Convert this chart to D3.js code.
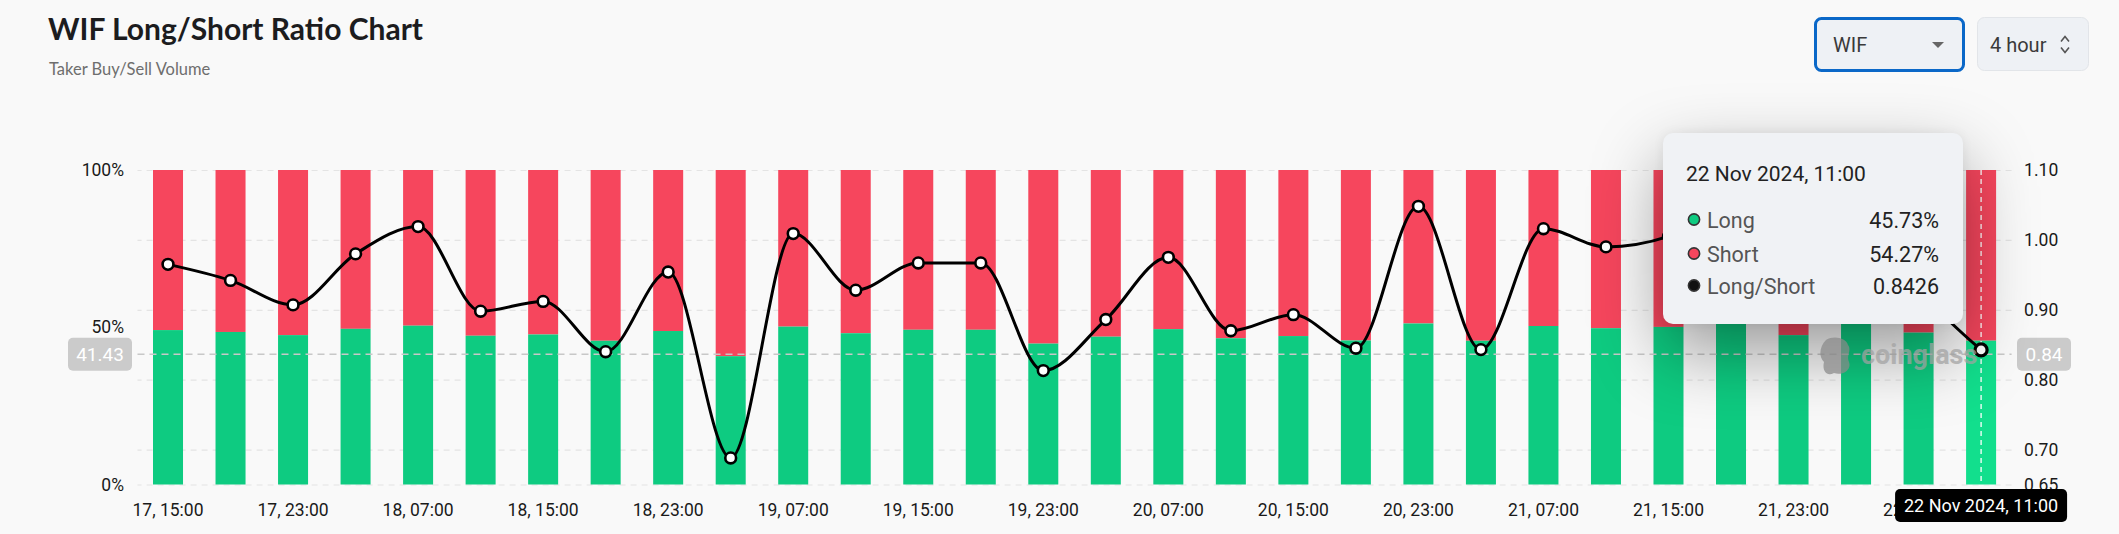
<!DOCTYPE html>
<html>
<head>
<meta charset="utf-8">
<script src="https://cdn.jsdelivr.net/npm/d3@7"></script>
<style>
html,body{margin:0;padding:0;background:#f9f9f9;width:2119px;height:534px;overflow:hidden;}
#wrap{position:relative;width:2119px;height:534px;}
svg{position:absolute;left:0;top:0;}
#tipbox{position:absolute;left:1663px;top:133px;width:300px;height:191px;background:#f0f2f5;border-radius:10px;
  box-shadow:0 28px 70px rgba(0,0,0,0.38), 0 0 12px rgba(0,0,0,0.06);}
</style>
</head>
<body>
<div id="wrap">
  <svg id="chart" width="2119" height="534"></svg>
  <div id="tipbox"></div>
  <svg id="overlay" width="2119" height="534"></svg>
</div>
<script>
// ---------------- data ----------------
const categories = ["17, 15:00","17, 19:00","17, 23:00","18, 03:00","18, 07:00","18, 11:00","18, 15:00","18, 19:00","18, 23:00","19, 03:00",
  "19, 07:00","19, 11:00","19, 15:00","19, 19:00","19, 23:00","20, 03:00","20, 07:00","20, 11:00","20, 15:00","20, 19:00",
  "20, 23:00","21, 03:00","21, 07:00","21, 11:00","21, 15:00","21, 19:00","21, 23:00","22, 03:00","22, 07:00","22, 11:00"];
const longPct = [49.1, 48.5, 47.5, 49.5, 50.5, 47.3, 47.7, 45.7, 48.8, 40.8,
  50.2, 48.1, 49.2, 49.2, 44.8, 47.0, 49.4, 46.5, 47.2, 45.8,
  51.2, 45.7, 50.4, 49.7, 50.1, 51.6, 47.5, 51.9, 48.3, 45.73];
const ratio = [0.965, 0.942, 0.907, 0.980, 1.019, 0.898, 0.912, 0.840, 0.954, 0.688,
  1.009, 0.928, 0.967, 0.967, 0.813, 0.886, 0.975, 0.870, 0.893, 0.845,
  1.048, 0.843, 1.016, 0.990, 1.005, 1.066, 0.905, 1.079, 0.934, 0.8426];
const pctTicks = [0, 50, 100];
const ratioTicks = [0.65, 0.70, 0.80, 0.90, 1.00, 1.10];
const hoverIndex = 29;
const hoverLabel = "22 Nov 2024, 11:00";
const crosshairPct = 41.43;
const title = "WIF Long/Short Ratio Chart";
const subtitle = "Taker Buy/Sell Volume";

// ---------------- layout ----------------
const GREEN = "#0ecb81", RED = "#f6465d";
const svg = d3.select("#chart");
const x = d3.scaleBand().domain(categories).range([137.5, 2011.6]).paddingInner(0.52).paddingOuter(0.248);
const yPct = d3.scaleLinear().domain([0, 100]).range([484.5, 170]);
const yRatio = d3.scaleLinear().domain([0.65, 1.10]).range([484.5, 170]);
const cx = i => x(categories[i]) + x.bandwidth() / 2;

// title
svg.append("text").attr("x", 48).attr("y", 40).text(title)
  .style("font-family", "Lato, 'Open Sans', sans-serif").style("font-weight", 700).style("font-size", "30px").attr("fill", "#1c1c1e");
svg.append("text").attr("x", 49).attr("y", 75).text(subtitle)
  .style("font-family", "Lato, sans-serif").style("font-size", "16.5px").attr("fill", "#6e6e6e");

// selectors
const sel = svg.append("g").style("font-family", "Roboto, sans-serif");
sel.append("rect").attr("x", 1815.5).attr("y", 18.5).attr("width", 148).attr("height", 52).attr("rx", 6)
  .attr("fill", "#eef1f5").attr("stroke", "#0b68c8").attr("stroke-width", 3);
sel.append("text").attr("x", 1833).attr("y", 52).text("WIF").attr("fill", "#3a3a3a").style("font-size", "20px");
sel.append("path").attr("d", "M1932,42 L1944,42 L1938,48 Z").attr("fill", "#666");
sel.append("rect").attr("x", 1977.5).attr("y", 17.5).attr("width", 111).attr("height", 53).attr("rx", 7)
  .attr("fill", "#eef1f5").attr("stroke", "#e2e5e9");
sel.append("text").attr("x", 1990).attr("y", 52).text("4 hour").attr("fill", "#3a3a3a").style("font-size", "20px");
sel.append("path").attr("d", "M2061,41.5 L2065,36.5 L2069,41.5 M2061,47.5 L2065,52.5 L2069,47.5")
  .attr("fill", "none").attr("stroke", "#555").attr("stroke-width", 1.6);

// gridlines + right axis
const rightAxis = d3.axisRight(yRatio).tickValues(ratioTicks).tickFormat(d3.format(".2f"))
  .tickSizeInner(-(2011.6 - 137.5)).tickSizeOuter(0).tickPadding(12.5);
const ra = svg.append("g").attr("transform", "translate(2011.6,0)").call(rightAxis);
ra.select(".domain").remove();
ra.selectAll("line").attr("stroke", "#e4e4e4").attr("stroke-dasharray", "6,5").attr("stroke-width", 1.2);
ra.selectAll("text").attr("fill", "#1a1a1a").style("font-family", "Roboto, sans-serif").style("font-size", "17.5px");

const leftAxis = d3.axisLeft(yPct).tickValues(pctTicks).tickFormat(d => d + "%").tickSize(0).tickPadding(13.5);
const la = svg.append("g").attr("transform", "translate(137.5,0)").call(leftAxis);
la.select(".domain").remove();
la.selectAll("text").attr("fill", "#1a1a1a").style("font-family", "Roboto, sans-serif").style("font-size", "17.5px");

// bars
const bars = svg.append("g");
bars.selectAll("rect.short").data(categories).join("rect").attr("class", "short")
  .attr("x", d => x(d)).attr("width", x.bandwidth())
  .attr("y", yPct(100)).attr("height", (d, i) => yPct(longPct[i]) - yPct(100))
  .attr("fill", RED);
bars.selectAll("rect.long").data(categories).join("rect").attr("class", "long")
  .attr("x", d => x(d)).attr("width", x.bandwidth())
  .attr("y", (d, i) => yPct(longPct[i])).attr("height", (d, i) => yPct(0) - yPct(longPct[i]))
  .attr("fill", (d, i) => i === hoverIndex ? "#12df8d" : GREEN);

// x axis labels
const xAxis = d3.axisBottom(x).tickValues(categories.filter((d, i) => i % 2 === 0)).tickSize(0).tickPadding(14);
const xa = svg.append("g").attr("transform", "translate(0,490)").call(xAxis);
xa.select(".domain").remove();
xa.selectAll("text").attr("fill", "#1a1a1a").style("font-family", "Roboto, sans-serif").style("font-size", "17.5px");

// crosshair horizontal
const chY = yPct(crosshairPct);
svg.append("line").attr("x1", 137.5).attr("x2", 2011.6).attr("y1", chY).attr("y2", chY)
  .attr("stroke", "#c8c8c8").attr("stroke-width", 1.6).attr("stroke-dasharray", "7,5");
// vertical crosshair
svg.append("line").attr("x1", cx(hoverIndex)).attr("x2", cx(hoverIndex)).attr("y1", yPct(100)).attr("y2", yPct(0))
  .attr("stroke", "#ffffff").attr("stroke-width", 1.3).attr("stroke-dasharray", "5,4");

// ratio line
const line = d3.line().x((d, i) => cx(i)).y(d => yRatio(d)).curve(d3.curveMonotoneX);
svg.append("path").datum(ratio).attr("d", line).attr("fill", "none").attr("stroke", "#000").attr("stroke-width", 3);
svg.append("g").selectAll("circle").data(ratio).join("circle")
  .attr("cx", (d, i) => cx(i)).attr("cy", d => yRatio(d))
  .attr("r", (d, i) => i === hoverIndex ? 6 : 5.4)
  .attr("fill", "#fff").attr("stroke", "#000").attr("stroke-width", (d, i) => i === hoverIndex ? 3.2 : 2.6);

// crosshair labels
function tag(g, x0, y0, w, h, txt, fill, col, size) {
  g.append("rect").attr("x", x0).attr("y", y0).attr("width", w).attr("height", h).attr("rx", 5).attr("fill", fill);
  g.append("text").attr("x", x0 + w / 2).attr("y", y0 + h / 2).attr("text-anchor", "middle").attr("dominant-baseline", "central")
    .text(txt).attr("fill", col).style("font-family", "Roboto, sans-serif").style("font-size", size + "px");
}
const tags = svg.append("g");
tag(tags, 68, chY - 16.5, 64, 33, crosshairPct.toFixed(2), "#cbcbcb", "#ffffff", 19);
tag(tags, 2017, chY - 16.5, 54, 33, d3.format(".2f")(yRatio.invert(chY)), "#cbcbcb", "#ffffff", 19);
tag(tags, cx(hoverIndex) - 86, 489, 172, 33, hoverLabel, "#000000", "#ffffff", 18);

// watermark (above tooltip shadow)
const wm = d3.select("#overlay").append("g").attr("opacity", 0.72);
wm.append("path").attr("d", "M1826,340 C1834,335 1846,338 1848,345 C1852,350 1846,356 1849,362 C1852,370 1842,376 1834,373 C1826,377 1822,370 1824,362 C1818,356 1820,346 1826,340 Z")
  .attr("fill", "#8a8a8a");
wm.append("text").attr("x", 1861).attr("y", 364).text("coinglass").attr("fill", "#a2a2a2")
  .style("font-family", "Roboto, sans-serif").style("font-weight", 700).style("font-size", "27px");

// tooltip contents
const ov = d3.select("#overlay").append("g").attr("transform", "translate(1663,133)")
  .style("font-family", "Roboto, sans-serif");
ov.append("text").attr("x", 23).attr("y", 48).text(hoverLabel).attr("fill", "#222").style("font-size", "21px");
const rows = [
  {name: "Long", val: longPct[hoverIndex].toFixed(2) + "%", c: GREEN},
  {name: "Short", val: (100 - longPct[hoverIndex]).toFixed(2) + "%", c: RED},
  {name: "Long/Short", val: ratio[hoverIndex].toFixed(4), c: "#111"}
];
const rowY = [95, 129, 161];
rows.forEach((r, i) => {
  ov.append("circle").attr("cx", 31).attr("cy", rowY[i] - 8.5).attr("r", 5.6).attr("fill", r.c).attr("stroke", "#333").attr("stroke-width", 1.6);
  ov.append("text").attr("x", 44).attr("y", rowY[i]).text(r.name).attr("fill", "#555").style("font-size", "21.5px");
  ov.append("text").attr("x", 276).attr("y", rowY[i]).attr("text-anchor", "end").text(r.val).attr("fill", "#222").style("font-size", "21.5px");
});
</script>
</body>
</html>
